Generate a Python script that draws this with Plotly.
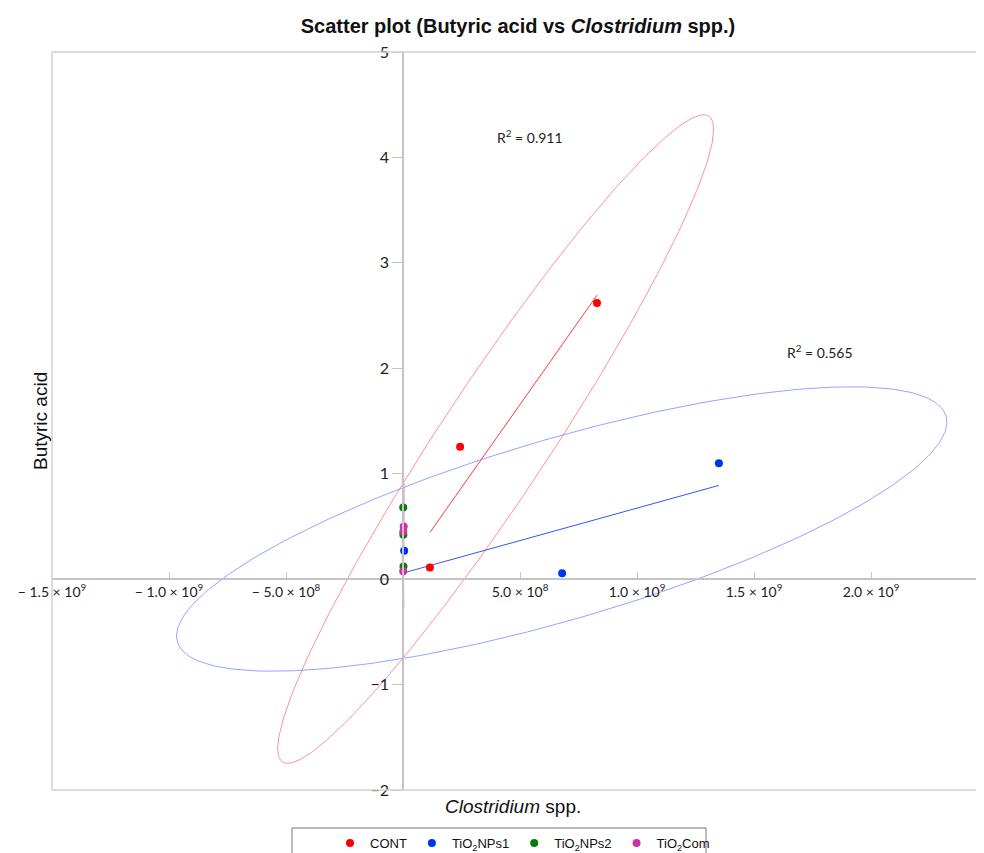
import numpy as np
import plotly.graph_objects as go

# ---------------- data ----------------
groups = ["CONT", "TiO<sub>2</sub>NPs1", "TiO<sub>2</sub>NPs2", "TiO<sub>2</sub>Com"]

cont_x = [1.15e8, 2.44e8, 8.29e8]
cont_y = [0.11, 1.255, 2.62]

nps1_x = [5.0e6, 6.80e8, 1.35e9]
nps1_y = [0.27, 0.057, 1.10]

nps2_x = [1.0e6, 2.0e6, 1.5e6]
nps2_y = [0.68, 0.12, 0.42]

com_x = [3.0e6, 1.2e6, 0.8e6]
com_y = [0.50, 0.45, 0.076]

x_tick_vals = [-1.5e9, -1.0e9, -5.0e8, 5.0e8, 1.0e9, 1.5e9, 2.0e9]
x_tick_text = ["− 1.5 × 10<sup>9</sup>", "− 1.0 × 10<sup>9</sup>", "− 5.0 × 10<sup>8</sup>",
               "5.0 × 10<sup>8</sup>", "1.0 × 10<sup>9</sup>", "1.5 × 10<sup>9</sup>",
               "2.0 × 10<sup>9</sup>"]
y_tick_vals = [-2, -1, 0, 1, 2, 3, 4, 5]

# ---------------- styles ----------------
point_colors = ["#ff0000", "#0033ee", "#0a7a0a", "#cc33aa"]
line_colors = ["#ff3a3a", "#3355ee", "#2a7a2a", "#cc55bb"]
ell_colors = ["rgba(255,110,110,0.75)", "rgba(110,135,255,0.75)",
              "rgba(60,170,60,0.85)", "rgba(220,110,200,0.85)"]

PAGE_OFFSET = 8      # default body margin of the html page
PLOT_L = 52          # plot area left (screen px)
PLOT_T = 52
PLOT_W = 940
PLOT_H = 738
XMIN = -1.5e9
XMAX = XMIN + PLOT_W / 234.0 * 1e9
YMIN, YMAX = -2, 5
CHI2_95 = 5.991

datasets = [(cont_x, cont_y), (nps1_x, nps1_y), (nps2_x, nps2_y), (com_x, com_y)]

fig = go.Figure()


def px_x(p):
    return (p - PLOT_L) / PLOT_W


def px_y(p):
    return (PLOT_T + PLOT_H - p) / PLOT_H


def ellipse(x, y):
    x = np.asarray(x, float)
    y = np.asarray(y, float)
    mx, my = x.mean(), y.mean()
    n = len(x)
    sxx = ((x - mx) ** 2).sum() / (n - 1)
    syy = ((y - my) ** 2).sum() / (n - 1)
    sxy = ((x - mx) * (y - my)).sum() / (n - 1)
    l11 = np.sqrt(sxx)
    l21 = sxy / l11
    l22 = np.sqrt(max(syy - l21 ** 2, 0.0))
    t = np.linspace(0, 2 * np.pi, 300)
    k = np.sqrt(CHI2_95)
    ex = mx + k * l11 * np.cos(t)
    ey = my + k * (l21 * np.cos(t) + l22 * np.sin(t))
    return ex, ey


# ellipses
for i, (x, y) in enumerate(datasets):
    ex, ey = ellipse(x, y)
    fig.add_trace(go.Scatter(x=ex, y=ey, mode="lines", line=dict(color=ell_colors[i], width=1),
                             showlegend=False, hoverinfo="skip"))

# trend lines
r2_values = []
for i, (x, y) in enumerate(datasets):
    xa = np.asarray(x, float)
    ya = np.asarray(y, float)
    slope, inter = np.polyfit(xa, ya, 1)
    r = np.corrcoef(xa, ya)[0, 1]
    r2_values.append(r * r)
    xs = np.array([xa.min(), xa.max()])
    fig.add_trace(go.Scatter(x=xs, y=slope * xs + inter, mode="lines",
                             line=dict(color=line_colors[i], width=1),
                             showlegend=False, hoverinfo="skip"))

# points
for i, (x, y) in enumerate(datasets):
    fig.add_trace(go.Scatter(x=x, y=y, mode="markers", name=groups[i],
                             marker=dict(color=point_colors[i], size=8)))

# R² annotations
fig.add_annotation(x=5.43e8, y=4.2, text="R<sup>2</sup> = %.3f" % r2_values[0], showarrow=False,
                   font=dict(family="Lato", size=14, color="#222"))
fig.add_annotation(x=1.78e9, y=2.16, text="R<sup>2</sup> = %.3f" % r2_values[1], showarrow=False,
                   font=dict(family="Lato", size=14, color="#222"))

# axis titles
fig.add_annotation(xref="paper", yref="paper", x=px_x(40), y=0.5, text="Butyric acid", textangle=-90,
                   showarrow=False, xanchor="center", yanchor="middle",
                   font=dict(family="Liberation Sans", size=19, color="#111"))
fig.add_annotation(xref="paper", yref="paper", x=px_x(513), y=-0.005, text="<i>Clostridium</i> spp.",
                   showarrow=False, xanchor="center", yanchor="top",
                   font=dict(family="Liberation Sans", size=19, color="#111"))

# plot frame (top, left, bottom)
frame = dict(type="line", xref="paper", yref="paper", line=dict(color="#d0d0d0", width=1.5))
fig.add_shape(x0=0, x1=1, y0=1, y1=1, **frame)
fig.add_shape(x0=0, x1=0, y0=0, y1=1, **frame)
fig.add_shape(x0=0, x1=1, y0=0, y1=0, **frame)

# legend box
fig.add_shape(type="rect", xref="paper", yref="paper",
              x0=px_x(292), x1=px_x(706), y0=px_y(870), y1=px_y(828),
              line=dict(color="#777", width=1), fillcolor="rgba(0,0,0,0)")

fig.update_layout(
    width=984, height=853,
    margin=dict(l=PLOT_L - PAGE_OFFSET, r=984 - (PLOT_L - PAGE_OFFSET) - PLOT_W,
                t=PLOT_T - PAGE_OFFSET, b=853 - (PLOT_T - PAGE_OFFSET) - PLOT_H, autoexpand=False),
    paper_bgcolor="white", plot_bgcolor="white",
    title=dict(text="<b>Scatter plot (Butyric acid vs <i>Clostridium</i> spp.)</b>",
               x=px_x(518), xref="paper", xanchor="center",
               y=1 - (26 - PAGE_OFFSET) / 853, yref="container", yanchor="middle",
               font=dict(family="Liberation Sans", size=20, color="#111")),
    xaxis=dict(range=[XMIN, XMAX], anchor="free", position=(0 - YMIN) / (YMAX - YMIN),
               automargin=False,
               showline=True, linecolor="#c4c4c4", linewidth=1.5,
               ticks="inside", ticklen=6, tickcolor="#c4c4c4", tickwidth=1,
               tickvals=x_tick_vals, ticktext=x_tick_text,
               tickfont=dict(family="Lato", size=14, color="#222"),
               showgrid=False, zeroline=False),
    yaxis=dict(range=[YMIN, YMAX], anchor="free", position=(0 - XMIN) / (XMAX - XMIN),
               automargin=False,
               showline=True, linecolor="#c4c4c4", linewidth=1.5,
               ticks="outside", ticklen=10, tickcolor="#c4c4c4", tickwidth=1,
               tickvals=y_tick_vals,
               tickfont=dict(family="Lato", size=16, color="#222"),
               showgrid=False, zeroline=False),
    legend=dict(orientation="h", x=px_x(330), xanchor="left",
                y=px_y(828), yanchor="top",
                font=dict(family="Liberation Sans", size=13, color="#111"),
                bgcolor="rgba(0,0,0,0)", borderwidth=0),
    showlegend=True,
)

fig.write_html("out.html")
